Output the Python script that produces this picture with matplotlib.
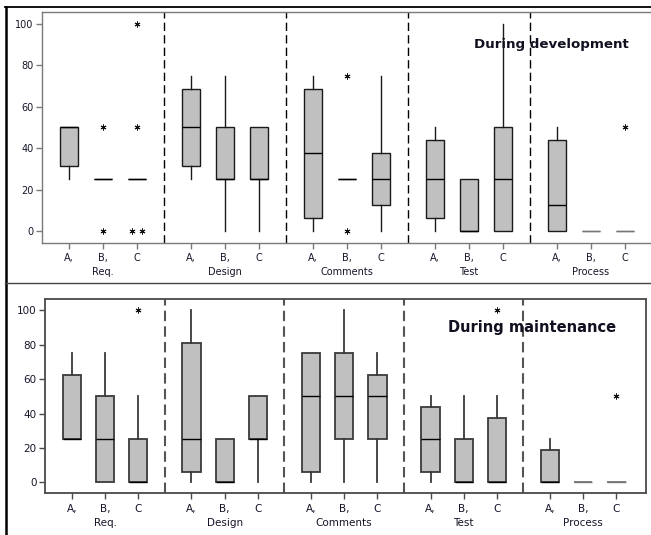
import matplotlib
matplotlib.use("Agg")
import matplotlib.pyplot as plt
from matplotlib.lines import Line2D

W, H = 651, 535

groups = ["Req.", "Design", "Comments", "Test", "Process"]
tick_labels = ["A,", "B,", "C"] * 5
yticks = [0, 20, 40, 60, 80, 100]

# During development
dev_q1 = [31.25, 25, 25, 31.25, 25, 25, 6.25, 25, 12.5, 6.25, 0, 0, 0, 0, 0]
dev_med = [50, 25, 25, 50, 25, 25, 37.5, 25, 25, 25, 0, 25, 12.5, 0, 0]
dev_q3 = [50, 25, 25, 68.75, 50, 50, 68.75, 25, 37.5, 43.75, 25, 50, 43.75, 0, 0]
dev_lo = [25, 25, 25, 25, 0, 0, 0, 25, 0, 0, 0, 0, 0, 0, 0]
dev_hi = [50, 25, 25, 75, 75, 50, 75, 25, 75, 50, 25, 100, 50, 0, 0]
dev_out = [[], [50, 0], [100, 50, 0, 0], [], [], [], [], [75, 0],
           [], [], [], [], [], [], [50]]

# During maintenance
mnt_q1 = [25, 0, 0, 6.25, 0, 25, 6.25, 25, 25, 6.25, 0, 0, 0, 0, 0]
mnt_med = [25, 25, 0, 25, 0, 25, 50, 50, 50, 25, 0, 0, 0, 0, 0]
mnt_q3 = [62.5, 50, 25, 81.25, 25, 50, 75, 75, 62.5, 43.75, 25, 37.5, 18.75, 0, 0]
mnt_lo = [25, 0, 0, 0, 0, 0, 0, 0, 0, 0, 0, 0, 0, 0, 0]
mnt_hi = [75, 75, 50, 100, 25, 50, 75, 100, 75, 50, 50, 50, 25, 0, 0]
mnt_out = [[], [], [100], [], [], [], [], [], [], [], [], [100],
           [], [], [50]]

gap = 3.6
pos = [g * gap + i for g in range(5) for i in range(3)]
seps = [g * gap + 2 + (gap - 2) / 2 for g in range(4)]

txt = '#15152a'


def rect(l, t, r, b):
    return [l / W, 1 - b / H, (r - l) / W, (b - t) / H]


def panel(ax, q1, med, q3, lo, hi, out, st):
    stats = []
    for k in range(len(pos)):
        stats.append(dict(q1=q1[k], med=med[k], q3=q3[k],
                          whislo=lo[k], whishi=hi[k], fliers=[]))
    res = ax.bxp(stats, positions=pos, widths=0.55, patch_artist=True,
                 showcaps=False, showfliers=False,
                 boxprops=dict(facecolor='#c0c0c0', edgecolor=st['edge'], linewidth=st['lw']),
                 whiskerprops=dict(color=st['edge'], linewidth=st['lw']),
                 medianprops=dict(color='black', linewidth=1.0))
    # collapsed boxes at zero are drawn lighter
    for k, m in enumerate(res['medians']):
        if q1[k] == q3[k] == 0:
            m.set_color('#777777')
            res['boxes'][k].set_edgecolor('#777777')
    for k, vals in enumerate(out):
        seen = {}
        for v in vals:
            seen[v] = seen.get(v, 0) + 1
        for v, n in seen.items():
            for j in range(n):
                dx = (j - (n - 1) / 2) * 0.28
                ax.plot(pos[k] + dx, v, ls='none', marker=(6, 2, 0), ms=4.2,
                        color='#111111', mew=0.7)
    for s in seps:
        ax.axvline(s, color=st['dash'], lw=st['dlw'], dashes=st['dashes'])
    ax.set_yticks(yticks)
    ax.set_xticks(pos)
    ax.set_xticklabels(tick_labels)
    ax.tick_params(length=4, width=1, color=st['spine'], labelsize=st['fs'],
                   labelcolor=txt)
    ax.tick_params(axis='x', pad=st['pad'])
    ax.tick_params(axis='y', pad=2)
    for sp in ax.spines.values():
        sp.set_color(st['spine'])
        sp.set_linewidth(st['slw'])
    for g, name in enumerate(groups):
        ax.text(g * gap + 1, st['gy'], name, transform=ax.get_xaxis_transform(),
                ha='center', va='center', fontsize=st['fs'], color=txt)
    ax.text(st['tx'], st['ty'], st['title'], transform=ax.transAxes,
            ha='center', va='center', fontsize=st['tfs'], fontweight='bold',
            color='#101020')


fig = plt.figure(figsize=(W / 100, H / 100), dpi=100)

ax1 = fig.add_axes(rect(42, 12, 656, 243))
ax1.set_xlim(-0.8, 17.32)
ax1.set_ylim(-5.8, 105.8)
panel(ax1, dev_q1, dev_med, dev_q3, dev_lo, dev_hi, dev_out,
      dict(edge='#1a1a1a', lw=1.0, spine='#7a7a7a', slw=1.0, dash='black',
           dlw=1.0, dashes=(6, 3), fs=7, pad=3, gy=-0.125,
           title='During development', tx=0.83, ty=0.861, tfs=9.6))

ax2 = fig.add_axes(rect(45, 299, 646, 493))
ax2.set_xlim(-0.81, 17.29)
ax2.set_ylim(-6.2, 106.6)
panel(ax2, mnt_q1, mnt_med, mnt_q3, mnt_lo, mnt_hi, mnt_out,
      dict(edge='#3a3a3a', lw=1.3, spine='#4a4a4a', slw=1.3, dash='#555555',
           dlw=1.5, dashes=(5, 2.5), fs=7.5, pad=4, gy=-0.155,
           title='During maintenance', tx=0.81, ty=0.851, tfs=10.5))

# outer frame
fig.add_artist(Line2D([5.5 / W, 5.5 / W], [0, 1 - 7 / H], color='black', lw=1.8,
                      transform=fig.transFigure))
fig.add_artist(Line2D([5 / W, 1], [1 - 7 / H, 1 - 7 / H], color='black', lw=1.3,
                      transform=fig.transFigure))
fig.add_artist(Line2D([5 / W, 1], [1 - 283 / H, 1 - 283 / H], color='#444444', lw=1.0,
                      transform=fig.transFigure))

fig.savefig('out.png', dpi=100)
